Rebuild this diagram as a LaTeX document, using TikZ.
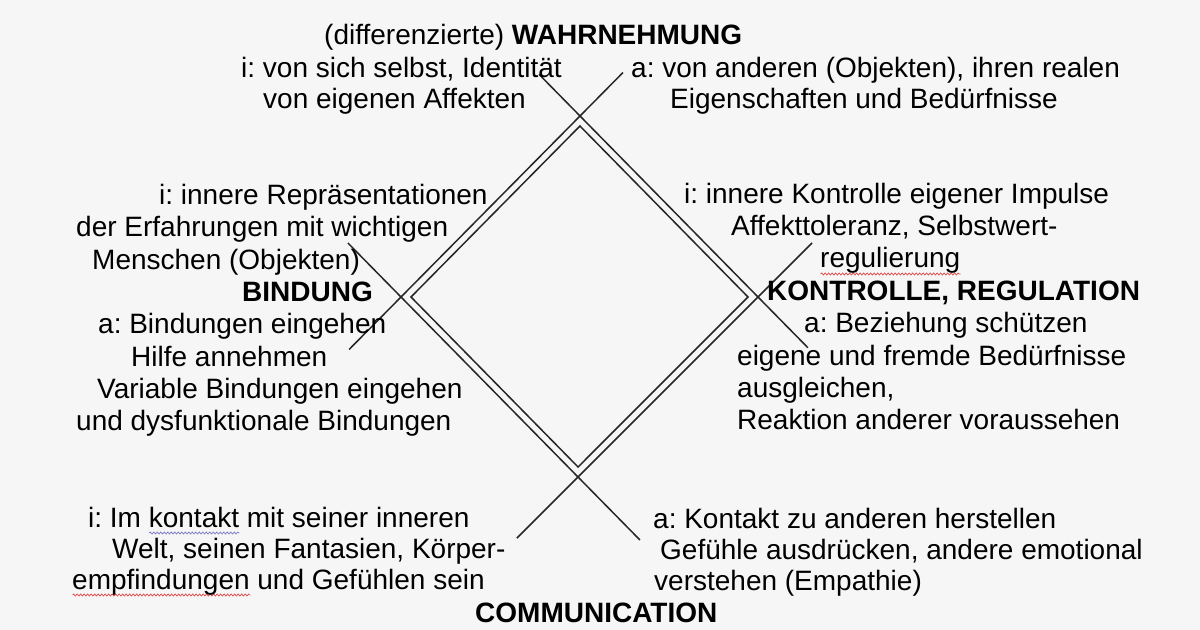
\documentclass[tikz,border=0pt]{standalone}
\usepackage{fontspec}
\setmainfont{Liberation Sans}
\usetikzlibrary{calc,decorations.pathmorphing}

\definecolor{paper}{RGB}{246,246,246}
\definecolor{spellred}{RGB}{225,70,70}
\definecolor{grammarblue}{RGB}{120,120,200}

% word with a wavy proofing line under it
\newcommand\spellwave[2]{\setbox0\hbox{#2}\rlap{\tikz[baseline=0pt]
    \draw[#1,line width=0.7bp,decorate,decoration={snake,amplitude=1bp,segment length=3.5bp}]
        (0bp,-6bp) -- (\the\wd0,-6bp);}\box0\relax}

\frenchspacing
\begin{document}
\begin{tikzpicture}[x=1bp,y=-1bp,
        side/.style={line width=1.5bp,black!85},
        txt/.style={anchor=base west,inner sep=0pt,font=\fontsize{28bp}{32bp}\selectfont}]
    \fill[paper] (0,0) rectangle (1200,630); % background
    \useasboundingbox (0,0) rectangle (1200,630);

    % diamond corners
    \coordinate (top) at (580,116);
    \coordinate (lft) at (401,297);
    \coordinate (rgt) at (758,297);
    \coordinate (bot) at (578,477);
    \coordinate (itop) at ($(top)!10bp!(bot)$);
    \coordinate (ibot) at ($(bot)!10bp!(top)$);
    \coordinate (ilft) at ($(lft)!10bp!(rgt)$);
    \coordinate (irgt) at ($(rgt)!10bp!(lft)$);

    % outer sides, running past the corners
    \draw[side] ($(lft)!-0.29!(top)$) -- ($(top)!-0.24!(lft)$);
    \draw[side] ($(top)!-0.23!(rgt)$) -- ($(rgt)!-0.28!(top)$);
    \draw[side] ($(lft)!-0.30!(bot)$) -- ($(bot)!-0.35!(lft)$);
    \draw[side] ($(bot)!-0.34!(rgt)$) -- ($(rgt)!-0.30!(bot)$);
    \draw[side] (itop) -- (irgt) -- (ibot) -- (ilft) -- cycle; % inner line

    % WAHRNEHMUNG
    \foreach \x/\y/\term [count=\i] in {
        324/45/{(differenzierte) \textbf{WAHRNEHMUNG}},
        241/78/{i: von sich selbst, Identität},
        263/109/{von eigenen Affekten},
        631/78/{a: von anderen (Objekten), ihren realen},
        670/109/{Eigenschaften und Bedürfnisse}} {
        \node[txt] (w\i) at (\x,\y) {\term};
    }
    % BINDUNG
    \foreach \x/\y/\term [count=\i] in {
        159/205/{i: innere Repräsentationen},
        76/237/{der Erfahrungen mit wichtigen},
        92/270/{Menschen (Objekten)},
        242/302/{\textbf{BINDUNG}},
        98/334/{a: Bindungen eingehen},
        131/366/{Hilfe annehmen},
        97/398/{Variable Bindungen eingehen},
        76/430/{und dysfunktionale Bindungen}} {
        \node[txt] (b\i) at (\x,\y) {\term};
    }
    % KONTROLLE
    \foreach \x/\y/\term [count=\i] in {
        684/204/{i: innere Kontrolle eigener Impulse},
        731/236/{Affekttoleranz, Selbstwert-},
        820/268/{\spellwave{spellred}{regulierung}},
        767/301/{\textbf{KONTROLLE, REGULATION}},
        804/333/{a: Beziehung schützen},
        737/365/{eigene und fremde Bedürfnisse},
        737/397/{ausgleichen,},
        737/429/{Reaktion anderer voraussehen}} {
        \node[txt] (k\i) at (\x,\y) {\term};
    }
    % COMMUNICATION
    \foreach \x/\y/\term [count=\i] in {
        88/527/{i: Im \spellwave{grammarblue}{kontakt} mit seiner inneren},
        112/558/{Welt, seinen Fantasien, Körper-},
        72/589/{\spellwave{spellred}{empfindungen} und Gefühlen sein},
        653/528/{a: Kontakt zu anderen herstellen},
        660/559/{Gefühle ausdrücken, andere emotional},
        654/590/{verstehen (Empathie)},
        475/622/{\textbf{COMMUNICATION}}} {
        \node[txt] (c\i) at (\x,\y) {\term};
    }
\end{tikzpicture}
\end{document}
